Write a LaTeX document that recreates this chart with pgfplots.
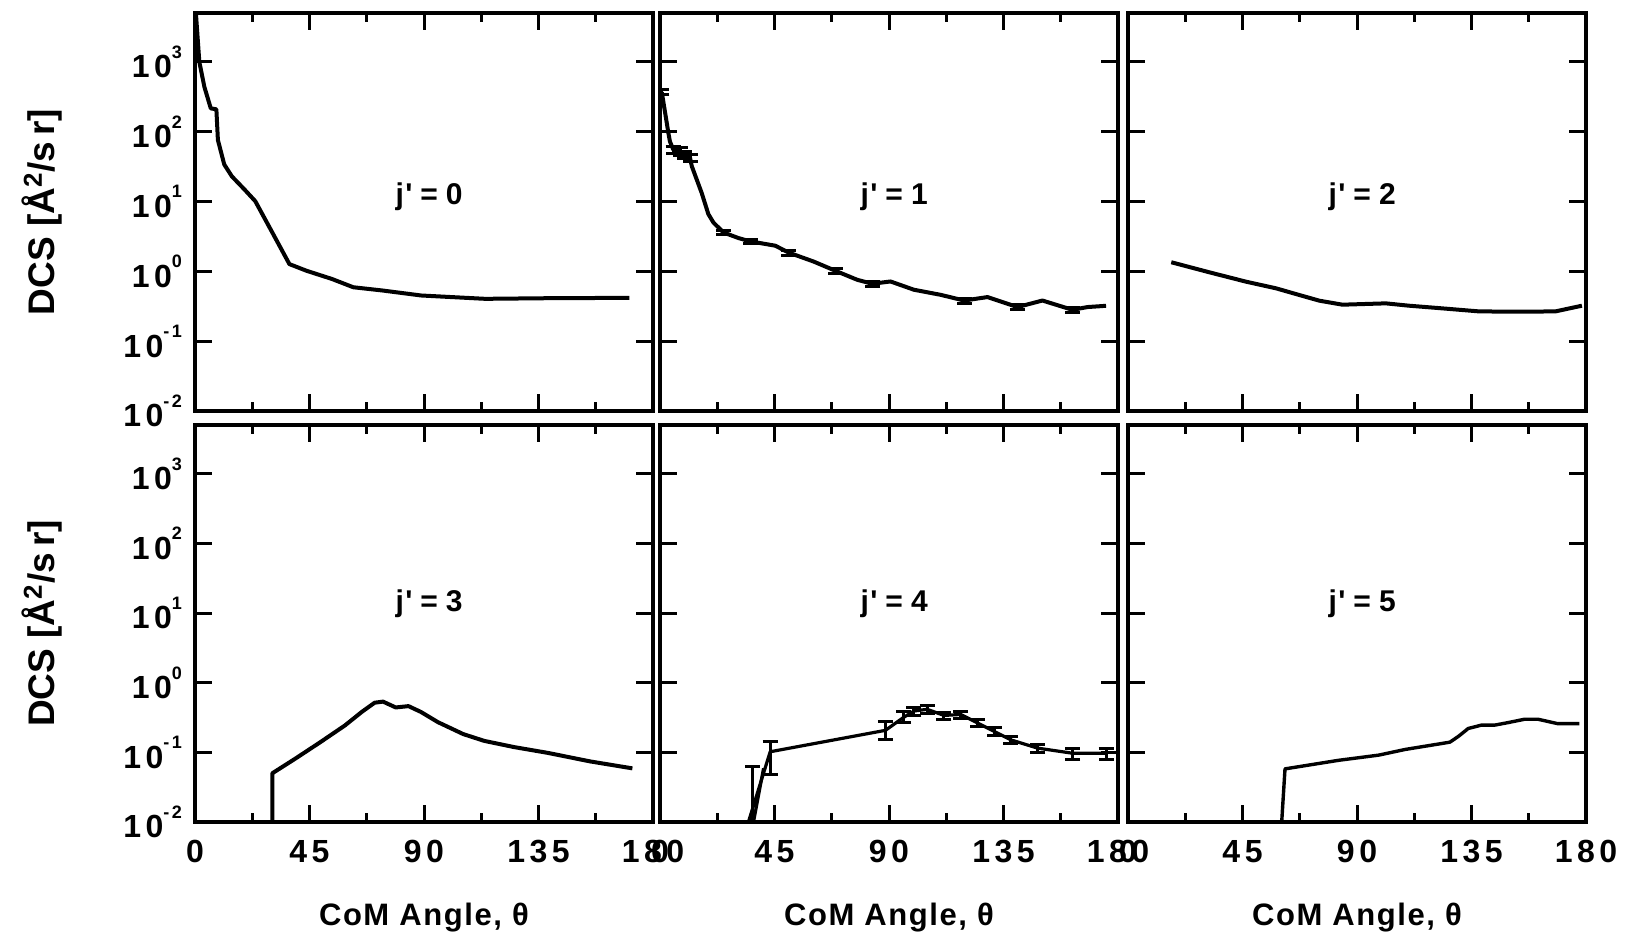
\documentclass[border=0pt]{standalone}
\usepackage{fontspec}
\setmainfont{Liberation Sans}
\newfontfamily\tickfont[LetterSpace=14]{Liberation Sans Bold}
\newfontfamily\labfont[LetterSpace=5]{Liberation Sans Bold}
\usepackage{pgfplots}
\pgfplotsset{compat=1.18}
\newcommand{\tkf}{\tickfont\fontsize{16}{19}\selectfont}
\newcommand{\pw}[1]{10\raisebox{9.8pt}{\fontsize{9}{10}\selectfont #1}}
\newcommand{\jl}[1]{{\labfont\fontsize{15}{18}\selectfont j'\hspace{4pt}=\hspace{4pt}#1}}
\pgfplotsset{every axis/.append style={
    scale only axis, width=229pt,
    xmin=0, xmax=180, ymin=1e-2, ymax=5012,
    xtick={0,45,90,135,180}, minor xtick={22.5,67.5,112.5,157.5},
    ytick={1e-2,1e-1,1,10,100,1000}, yminorticks=false,
    tick align=inside,
    major tick length=8.5pt, minor tick length=4.5pt,
    tick style={black, line width=1.5pt},
    axis line style={line width=2.2pt},
    tick label style={font=\tkf},
    yticklabel style={xshift=-3pt},
    xticklabel style={yshift=-5.5pt},
  }}
\begin{document}
\begin{tikzpicture}
\useasboundingbox (0,0) rectangle (816pt,471pt);
% ---------- j' = 0
\begin{semilogyaxis}[at={(97.5pt,464.5pt)}, anchor=north west, height=199pt,
  xticklabels={}, yticklabels={\pw{-2},\pw{-1},\pw{0},\pw{1},\pw{2},\pw{3}}]
\addplot[black, line width=2pt, line join=round, mark=none] coordinates {(0.2,6000) (1.7,1000) (3.7,436) (6.2,216) (8.4,209) (9.0,75.9) (11.5,33.9) (14.5,22.9) (19.5,14.8) (23.7,10.1) (30.4,3.59) (37.1,1.27) (43.8,1.02) (53.8,0.778) (62.2,0.592) (73.8,0.531) (88.9,0.451) (114.0,0.404) (140.6,0.413) (170.7,0.417)};
\node[anchor=base] at (axis cs:92,9.1) {\jl{0}};
\end{semilogyaxis}
% ---------- j' = 1
\begin{semilogyaxis}[at={(330pt,464.5pt)}, anchor=north west, height=199pt,
  xticklabels={}, yticklabels={}]
\addplot[black, line width=2pt, line join=round, mark=none] coordinates {(0.7,369) (3.3,95.5) (3.9,72.4) (5.2,55.6) (7.9,52.5) (9.8,46.8) (11.8,42.2) (12.5,32.0) (16.4,13.2) (19.0,6.6) (21.0,5.0) (24.9,3.61) (30.8,3.0) (35.4,2.69) (45.3,2.33) (50.5,1.86) (60.4,1.38) (68.9,1.02) (77.5,0.757) (83.4,0.664) (90.6,0.716) (99.8,0.545) (110.3,0.461) (119.5,0.382) (128.7,0.428) (140.5,0.308) (150.3,0.382) (162.1,0.281) (168.0,0.308) (175.3,0.321)};
\addplot[draw=none, mark=none,
  error bars/.cd, y dir=both, y explicit relative, error mark=-,
  error bar style={draw=black, line width=1.5pt},
  error mark options={rotate=90, draw=black, line width=1.5pt, mark size=3.75pt}]
  coordinates {(0.7,369) +- (0,0.09) (5.2,55.6) +- (0,0.12) (7.9,52.5) +- (0,0.12) (9.8,46.8) +- (0,0.12) (11.8,42.2) +- (0,0.12) (24.9,3.61) +- (0,0.08) (35.4,2.69) +- (0,0.08) (50.5,1.86) +- (0,0.08) (68.9,1.02) +- (0,0.08) (83.4,0.664) +- (0,0.08) (119.5,0.382) +- (0,0.08) (140.5,0.308) +- (0,0.08) (162.1,0.281) +- (0,0.08)};
\node[anchor=base] at (axis cs:92,9.1) {\jl{1}};
\end{semilogyaxis}
% ---------- j' = 2
\begin{semilogyaxis}[at={(564pt,464.5pt)}, anchor=north west, height=199pt,
  xticklabels={}, yticklabels={}]
\addplot[black, line width=2pt, line join=round, mark=none] coordinates {(17.0,1.35) (32.0,0.968) (46.4,0.711) (58.2,0.571) (66.0,0.473) (75.2,0.380) (84.3,0.333) (101.3,0.348) (110.5,0.322) (123.5,0.295) (137.9,0.267) (153.6,0.264) (168.0,0.267) (178.4,0.322)};
\node[anchor=base] at (axis cs:92,9.1) {\jl{2}};
\end{semilogyaxis}
% ---------- j' = 3
\begin{semilogyaxis}[at={(97.5pt,258.5pt)}, anchor=north west, height=198.5pt,
  xticklabels={0,45,90,135,180},
  yticklabels={\pw{-2},\pw{-1},\pw{0},\pw{1},\pw{2},\pw{3}}]
\addplot[black, line width=2pt, line join=round, mark=none] coordinates {(30.4,0.001) (30.4,0.0501) (39.0,0.0794) (49.0,0.138) (58.9,0.243) (65.6,0.382) (70.6,0.516) (73.9,0.535) (78.9,0.441) (83.9,0.461) (88.8,0.380) (95.5,0.271) (105.4,0.183) (113.7,0.146) (125.4,0.119) (138.7,0.0982) (155.3,0.0741) (171.9,0.0589)};
\node[anchor=base] at (axis cs:92,10.7) {\jl{3}};
\end{semilogyaxis}
% ---------- j' = 4
\begin{semilogyaxis}[at={(330pt,258.5pt)}, anchor=north west, height=198.5pt,
  xticklabels={0,45,90,135,180}, yticklabels={}]
\addplot[black, line width=1.6pt, line join=round, mark=none] coordinates {(32.2,0.005) (43.3,0.102) (88.6,0.207) (95.7,0.317) (99.8,0.392) (105.0,0.415) (111.6,0.339) (118.2,0.35) (124.7,0.265) (131.3,0.2) (137.9,0.151) (148.4,0.115) (162.2,0.097) (175.3,0.097)};
\addplot[black, line width=1.6pt, line join=round, mark=none] coordinates {(35.2,0.005) (40.7,0.059)};
\addplot[draw=none, mark=none,
  error bars/.cd, y dir=both, y explicit, error mark=-,
  error bar style={draw=black, line width=1.5pt},
  error mark options={rotate=90, draw=black, line width=1.5pt, mark size=3.75pt}]
  coordinates {(36.4,0.03) += (0,0.033) -= (0,0.0299) (43.3,0.102) += (0,0.041) -= (0,0.054) (88.6,0.207) += (0,0.073) -= (0,0.055) (95.7,0.317) += (0,0.063) -= (0,0.052) (99.8,0.392) += (0,0.05) -= (0,0.05) (105.0,0.415) += (0,0.05) -= (0,0.05) (111.6,0.339) += (0,0.04) -= (0,0.04) (118.2,0.35) += (0,0.04) -= (0,0.04) (124.7,0.265) += (0,0.03) -= (0,0.03) (131.3,0.2) += (0,0.025) -= (0,0.025) (137.9,0.151) += (0,0.018) -= (0,0.018) (148.4,0.115) += (0,0.015) -= (0,0.015) (162.2,0.097) += (0,0.018) -= (0,0.019) (175.3,0.097) += (0,0.017) -= (0,0.017)};
\node[anchor=base] at (axis cs:92,10.7) {\jl{4}};
\end{semilogyaxis}
% ---------- j' = 5
\begin{semilogyaxis}[at={(564pt,258.5pt)}, anchor=north west, height=198.5pt,
  xticklabels={0,45,90,135,180}, yticklabels={}]
\addplot[black, line width=1.7pt, line join=round, mark=none] coordinates {(58.7,0.001) (61.7,0.0579) (82.8,0.0769) (98.5,0.0912) (108.9,0.110) (126.5,0.140) (129.8,0.169) (133.7,0.220) (138.9,0.246) (144.1,0.246) (149.3,0.267) (155.9,0.299) (161.1,0.299) (168.9,0.258) (177.4,0.258)};
\node[anchor=base] at (axis cs:92,10.7) {\jl{5}};
\end{semilogyaxis}
% ---------- axis titles
\node[rotate=90, font=\bfseries\fontsize{18.5}{21}\selectfont] at (21pt,365pt) {DCS [Å\textsuperscript{2}/s\,r]};
\node[rotate=90, font=\bfseries\fontsize{18.5}{21}\selectfont] at (21pt,159.25pt) {DCS [Å\textsuperscript{2}/s\,r]};
\foreach \cx in {212,444.5,678.5}{
  \node[anchor=base] at (\cx pt,8.5pt) {\labfont\fontsize{15.5}{18}\selectfont CoM Angle, θ};
}
\end{tikzpicture}
\end{document}
